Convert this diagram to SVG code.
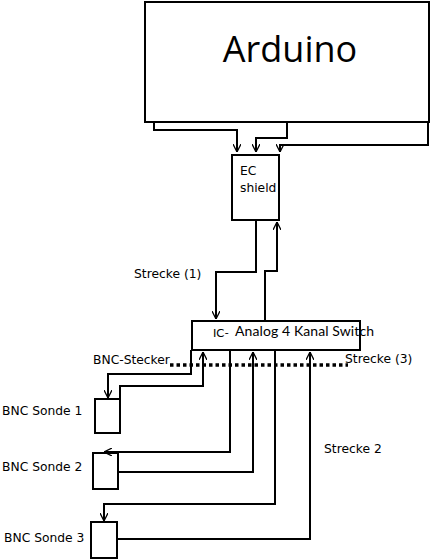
<svg xmlns="http://www.w3.org/2000/svg" width="433" height="560" viewBox="0 0 433 560">
<defs>
<marker id="arr" viewBox="0 0 10 10" refX="10" refY="5" markerWidth="8" markerHeight="8" markerUnits="userSpaceOnUse" orient="auto">
<path d="M0,0 L10,5 L0,10" fill="none" stroke="#000" stroke-width="1.6"/>
</marker>
<style>
.box{fill:#fff;stroke:#000;stroke-width:2}
.c{fill:none;stroke:#000;stroke-width:2}
.lbl{font-family:"DejaVu Sans",sans-serif;font-size:12.3px;fill:#000}
</style>
</defs>
<rect width="433" height="560" fill="#fff"/>
<g id="arduino">
<rect class="box" x="145" y="2" width="284" height="120"/>
<text x="290" y="62" text-anchor="middle" font-family="Open Sans, sans-serif" font-size="36">Arduino</text>
</g>
<g id="ec-shield">
<rect class="box" x="232" y="155" width="47" height="65"/>
<text class="lbl" x="240" y="175">EC</text>
<text class="lbl" x="240" y="192">shield</text>
</g>
<g id="ic-switch">
<rect class="box" x="192" y="321" width="168" height="29"/>
<text x="213" y="337" font-family="Lato, sans-serif" font-size="12">IC-</text>
<text x="235" y="336" font-family="Lato, sans-serif" font-size="14" textLength="139">Analog 4 Kanal Switch</text>
</g>
<g id="sonde1">
<rect class="box" x="95" y="399" width="25" height="34"/>
<text class="lbl" x="2" y="415">BNC Sonde 1</text>
</g>
<g id="sonde2">
<rect class="box" x="93" y="453" width="25" height="36"/>
<text class="lbl" x="2" y="471">BNC Sonde 2</text>
</g>
<g id="sonde3">
<rect class="box" x="91" y="522" width="26" height="36"/>
<text class="lbl" x="4" y="542">BNC Sonde 3</text>
</g>
<g id="connectors">
<path class="c" d="M154,122 V130 H237 V152" marker-end="url(#arr)"/>
<path class="c" d="M287,122 V138 H256 V152" marker-end="url(#arr)"/>
<path class="c" d="M428,122 V145 H280 V152" marker-end="url(#arr)"/>
<path class="c" d="M256,220 V272 H216 V319" marker-end="url(#arr)"/>
<path class="c" d="M265,321 V271 H277 V222" marker-end="url(#arr)"/>
<path class="c" d="M191,350 V374 H108 V398" marker-end="url(#arr)"/>
<path class="c" d="M120,399 V386 H203 V352" marker-end="url(#arr)"/>
<path class="c" d="M230,350 V452 H104" marker-end="url(#arr)"/>
<path class="c" d="M118,472 H253 V352" marker-end="url(#arr)"/>
<path class="c" d="M275,350 V504 H104 V521" marker-end="url(#arr)"/>
<path class="c" d="M117,539 H310 V352" marker-end="url(#arr)"/>
<path d="M170,365 H348" fill="none" stroke="#000" stroke-width="3.5" stroke-dasharray="3.5,3"/>
<text class="lbl" x="134" y="278">Strecke (1)</text>
<text class="lbl" x="93" y="364">BNC-Stecker</text>
<text class="lbl" x="345" y="363">Strecke (3)</text>
<text class="lbl" x="324" y="453">Strecke 2</text>
</g>
</svg>
